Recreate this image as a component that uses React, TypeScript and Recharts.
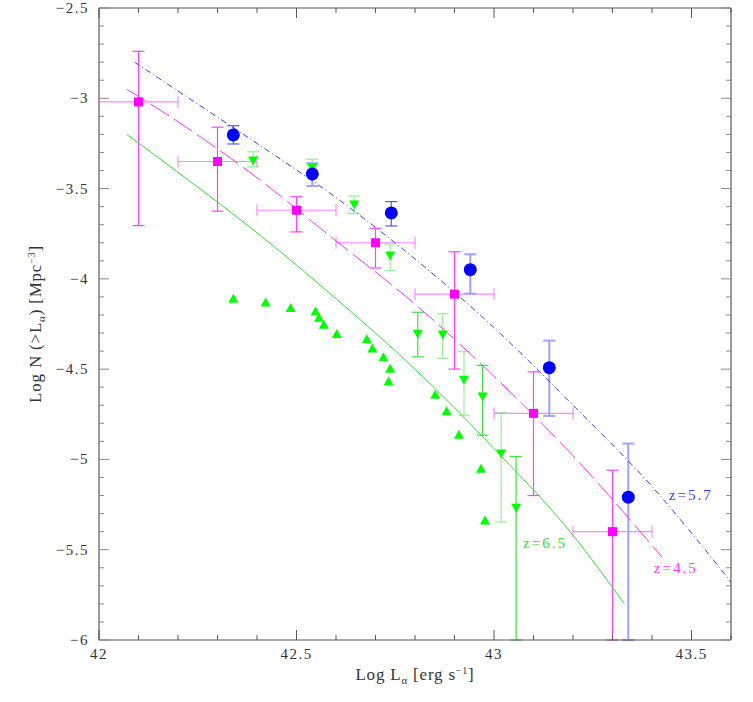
import React from 'react';
import {
  ScatterChart,
  Scatter,
  XAxis,
  YAxis,
  ErrorBar,
  ReferenceDot,
} from 'recharts';

// z=4.5 squares (x +- 0.1)
const magX = [42.1, 42.3, 42.5, 42.7, 42.9, 43.1, 43.3];
const magY = [-3.02, -3.35, -3.62, -3.8, -4.085, -4.745, -5.4];
const magYHi = [-2.74, -3.16, -3.545, -3.72, -3.85, -4.515, -5.06];
const magYLo = [-3.705, -3.625, -3.74, -3.94, -4.5, -5.2, -6.0];
const magXLo = [42.0, 42.2, 42.4, 42.6, 42.8, 43.0, 43.2];
const magXHi = [42.2, 42.4, 42.6, 42.8, 43.0, 43.2, 43.4];

// z=5.7 circles
const blueX = [42.34, 42.54, 42.74, 42.94, 43.14, 43.34];
const blueY = [-3.203, -3.419, -3.635, -3.949, -4.492, -5.209];
const blueHi = [-3.152, -3.36, -3.572, -3.864, -4.342, -4.912];
const blueLo = [-3.253, -3.486, -3.707, -4.082, -4.759, -6.0];
const blueDark = [true, false, true, false, false, false];

// z=6.5 down triangles
const downX = [42.39, 42.54, 42.646, 42.737, 42.807, 42.87, 42.924, 42.971, 43.018, 43.056];
const downY = [-3.347, -3.388, -3.591, -3.873, -4.307, -4.311, -4.561, -4.654, -4.97, -5.27];
const downHi = [-3.296, -3.338, -3.541, -3.807, -4.185, -4.193, -4.403, -4.479, -4.741, -4.984];
const downLo = [-3.379, -3.425, -3.637, -3.955, -4.432, -4.44, -4.755, -4.866, -5.346, -6.0];
const downDark = [false, false, false, false, true, false, false, true, false, true];

// z=6.5 up triangles (lower limits)
const upX = [42.34, 42.422, 42.485, 42.548, 42.557, 42.569, 42.602, 42.678, 42.692, 42.72, 42.737, 42.733, 42.851, 42.88, 42.911, 42.967, 42.977];
const upY = [-4.107, -4.128, -4.159, -4.178, -4.213, -4.252, -4.303, -4.331, -4.383, -4.431, -4.495, -4.565, -4.639, -4.731, -4.861, -5.049, -5.335];

// model curves
const blueCurveX = [42.09, 42.2, 42.4, 42.6, 42.8, 43.0, 43.2, 43.4, 43.6];
const blueCurveY = [-2.8, -2.96, -3.25, -3.55, -3.89, -4.27, -4.7, -5.15, -5.68];
const magCurveX = [42.07, 42.2, 42.4, 42.6, 42.8, 43.0, 43.2, 43.425];
const magCurveY = [-2.95, -3.13, -3.44, -3.79, -4.14, -4.54, -4.98, -5.54];
const greenCurveX = [42.07, 42.2, 42.4, 42.6, 42.8, 43.0, 43.2, 43.33];
const greenCurveY = [-3.2, -3.41, -3.745, -4.11, -4.5, -4.94, -5.42, -5.8];

// axes (ticks every 0.1, labelled every 0.5)
const xTicks = [42, 42.1, 42.2, 42.3, 42.4, 42.5, 42.6, 42.7, 42.8, 42.9, 43, 43.1, 43.2, 43.3, 43.4, 43.5, 43.6];
const yTicks = [-6, -5.9, -5.8, -5.7, -5.6, -5.5, -5.4, -5.3, -5.2, -5.1, -5, -4.9, -4.8, -4.7, -4.6, -4.5, -4.4, -4.3, -4.2, -4.1, -4, -3.9, -3.8, -3.7, -3.6, -3.5, -3.4, -3.3, -3.2, -3.1, -3, -2.9, -2.8, -2.7, -2.6, -2.5];

const curveLabels = [
  { x: 43.43, y: -5.196, text: 'z=5.7', color: '#3a3aff' },
  { x: 43.392, y: -5.601, text: 'z=4.5', color: '#ff33ff' },
  { x: 43.061, y: -5.462, text: 'z=6.5', color: '#33dd33' },
];

const serif = '"Liberation Serif", "Times New Roman", serif';

const withErr = (xs: number[], ys: number[], hi: number[], lo: number[]) =>
  xs.map((x, i) => ({ x, y: ys[i], ey: [ys[i] - lo[i], hi[i] - ys[i]] }));

const magData = magX.map((x, i) => ({
  x,
  y: magY[i],
  ey: [magY[i] - magYLo[i], magYHi[i] - magY[i]],
  ex: [x - magXLo[i], magXHi[i] - x],
}));
const blueAll = withErr(blueX, blueY, blueHi, blueLo);
const blueDarkData = blueAll.filter((_, i) => blueDark[i]);
const blueLightData = blueAll.filter((_, i) => !blueDark[i]);
const downAll = withErr(downX, downY, downHi, downLo);
const downDarkData = downAll.filter((_, i) => downDark[i]);
const downLightData = downAll.filter((_, i) => !downDark[i]);
const upData = upX.map((x, i) => ({ x, y: upY[i] }));
const curve = (xs: number[], ys: number[]) => xs.map((x, i) => ({ x, y: ys[i] }));

const Dot = (p: any) => <circle cx={p.cx} cy={p.cy} r={6.5} fill="#0000ff" />;
const Sq = (p: any) => <rect x={p.cx - 4.5} y={p.cy - 4.5} width={9} height={9} fill="#ff00ff" />;
const TriDown = (p: any) => (
  <path d={`M${p.cx - 5},${p.cy - 4.5}L${p.cx + 5},${p.cy - 4.5}L${p.cx},${p.cy + 4.5}Z`} fill="#00ff00" />
);
const TriUp = (p: any) => (
  <path d={`M${p.cx - 5},${p.cy + 4.5}L${p.cx + 5},${p.cy + 4.5}L${p.cx},${p.cy - 4.5}Z`} fill="#00ff00" />
);
const None = () => <g />;

const isMajor = (v: number) => Math.abs(v * 2 - Math.round(v * 2)) < 1e-6;
const fmt = (v: number) => String(v).replace('-', '\u2212');
const tickLen = (v: number) => (isMajor(v) ? 10 : 5);

// inward ticks, drawn from the axis edge position recharts hands to the tick
const BottomTick = (p: any) => {
  const v = p.payload.value;
  return (
    <g>
      <line x1={p.x} x2={p.x} y1={p.y} y2={p.y - tickLen(v)} stroke="#555" />
      {isMajor(v) && (
        <text x={p.x} y={p.y + 19} textAnchor="middle" fill="#333" fontSize={15} fontFamily={serif} letterSpacing={1.5}>
          {fmt(v)}
        </text>
      )}
    </g>
  );
};
const TopTick = (p: any) => {
  const v = p.payload.value;
  return <line x1={p.x} x2={p.x} y1={p.y} y2={p.y + tickLen(v)} stroke="#555" />;
};
const LeftTick = (p: any) => {
  const v = p.payload.value;
  return (
    <g>
      <line x1={p.x} x2={p.x + tickLen(v)} y1={p.y} y2={p.y} stroke="#888" />
      {isMajor(v) && (
        <text x={p.x - 10} y={p.y + 5} textAnchor="end" fill="#333" fontSize={15} fontFamily={serif} letterSpacing={1.5}>
          {fmt(v)}
        </text>
      )}
    </g>
  );
};
const RightTick = (p: any) => {
  const v = p.payload.value;
  return <line x1={p.x} x2={p.x - tickLen(v)} y1={p.y} y2={p.y} stroke="#888" />;
};

export default function App() {
  return (
    <div style={{ position: 'absolute', left: 0, top: 0 }}>
      <ScatterChart width={745} height={700} margin={{ top: 7, right: 13, bottom: 15, left: 0 }}>
        <XAxis
          type="number"
          dataKey="x"
          domain={[42, 43.6]}
          allowDataOverflow
          ticks={xTicks}
          interval={0}
          height={45}
          tickSize={0}
          tickMargin={0}
          tickLine={false}
          tick={BottomTick}
          axisLine={{ stroke: '#555' }}
          label={{
            content: ({ viewBox }: any) => (
              <text x={viewBox.x + viewBox.width / 2} y={viewBox.y + 40} textAnchor="middle" fontFamily={serif} fontSize={17} letterSpacing={0.8} fill="#333">
                Log L<tspan fontSize={11} dy={4}>α</tspan>
                <tspan dy={-4}> [erg s</tspan>
                <tspan fontSize={10} dy={-6}>−1</tspan>
                <tspan dy={6}>]</tspan>
              </text>
            ),
          }}
        />
        <XAxis
          xAxisId="top"
          orientation="top"
          type="number"
          dataKey="x"
          domain={[42, 43.6]}
          allowDataOverflow
          ticks={xTicks}
          interval={0}
          height={1}
          tickSize={0}
          tickMargin={0}
          tickLine={false}
          tick={TopTick}
          axisLine={{ stroke: '#555' }}
        />
        <YAxis
          type="number"
          dataKey="y"
          domain={[-6, -2.5]}
          allowDataOverflow
          ticks={yTicks}
          interval={0}
          width={99}
          tickSize={0}
          tickMargin={0}
          tickLine={false}
          tick={LeftTick}
          axisLine={{ stroke: '#999', strokeWidth: 2 }}
          label={{
            content: ({ viewBox }: any) => {
              const cx = 41;
              const cy = viewBox.y + viewBox.height / 2;
              return (
                <text x={cx} y={cy} transform={`rotate(-90, ${cx}, ${cy})`} textAnchor="middle" fontFamily={serif} fontSize={17} letterSpacing={0.8} fill="#333">
                  Log N (&gt;L<tspan fontSize={11} dy={4}>α</tspan>
                  <tspan dy={-4}>) [Mpc</tspan>
                  <tspan fontSize={10} dy={-6}>−3</tspan>
                  <tspan dy={6}>]</tspan>
                </text>
              );
            },
          }}
        />
        <YAxis
          yAxisId="right"
          orientation="right"
          type="number"
          dataKey="y"
          domain={[-6, -2.5]}
          allowDataOverflow
          ticks={yTicks}
          interval={0}
          width={1}
          tickSize={0}
          tickMargin={0}
          tickLine={false}
          tick={RightTick}
          axisLine={{ stroke: '#999', strokeWidth: 2 }}
        />
        {/* keeps the top/right axes tied to the same scales */}
        <Scatter xAxisId="top" yAxisId="right" data={curve(blueCurveX, blueCurveY)} shape={None} isAnimationActive={false} />

        {/* model curves */}
        <Scatter data={curve(greenCurveX, greenCurveY)} shape={None} line={{ stroke: '#33dd33', strokeWidth: 1 }} lineJointType="monotoneX" isAnimationActive={false} />
        <Scatter data={curve(magCurveX, magCurveY)} shape={None} line={{ stroke: '#ff33ff', strokeWidth: 1, strokeDasharray: '22 6' }} lineJointType="monotoneX" isAnimationActive={false} />
        <Scatter data={curve(blueCurveX, blueCurveY)} shape={None} line={{ stroke: '#3a3aff', strokeWidth: 1, strokeDasharray: '6 3 1 3' }} lineJointType="monotoneX" isAnimationActive={false} />

        {/* z=6.5 */}
        <Scatter data={upData} shape={TriUp} isAnimationActive={false} />
        <Scatter data={downLightData} shape={TriDown} isAnimationActive={false}>
          <ErrorBar dataKey="ey" direction="y" width={6} stroke="#99ee99" strokeWidth={1.2} />
        </Scatter>
        <Scatter data={downDarkData} shape={TriDown} isAnimationActive={false}>
          <ErrorBar dataKey="ey" direction="y" width={6} stroke="#44dd44" strokeWidth={1.2} />
        </Scatter>

        {/* z=4.5 */}
        <Scatter data={magData} shape={Sq} isAnimationActive={false}>
          <ErrorBar dataKey="ex" direction="x" width={6} stroke="#ff88ff" strokeWidth={1.2} />
          <ErrorBar dataKey="ey" direction="y" width={6} stroke="#ff44ff" strokeWidth={1.2} />
        </Scatter>

        {/* z=5.7 */}
        <Scatter data={blueLightData} shape={Dot} isAnimationActive={false}>
          <ErrorBar dataKey="ey" direction="y" width={6} stroke="#a0a0ff" strokeWidth={2} />
        </Scatter>
        <Scatter data={blueDarkData} shape={Dot} isAnimationActive={false}>
          <ErrorBar dataKey="ey" direction="y" width={6} stroke="#5555ff" strokeWidth={1.2} />
        </Scatter>

        {curveLabels.map((l) => (
          <ReferenceDot
            key={l.text}
            x={l.x}
            y={l.y}
            r={0}
            stroke="none"
            ifOverflow="visible"
            label={{ value: l.text, position: 'right', offset: 5, fill: l.color, fontSize: 15, fontFamily: serif, letterSpacing: 2 }}
          />
        ))}
      </ScatterChart>
    </div>
  );
}
